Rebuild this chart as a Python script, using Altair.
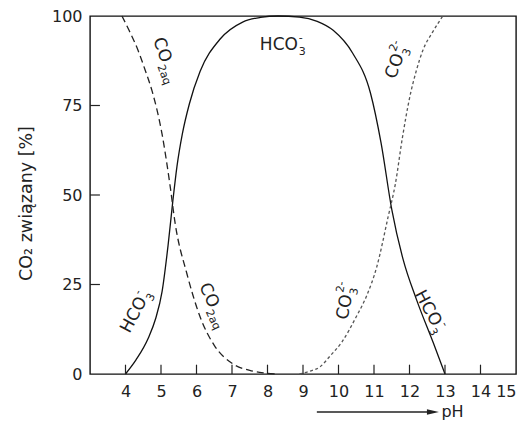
import altair as alt
import pandas as pd

# ---- data ----
co2_ph = [3.9, 4.1, 4.35, 4.55, 4.75, 5.03, 5.25, 5.4, 5.73, 5.9, 6.1, 6.5, 7.0, 7.5, 7.9, 8.25]
co2_pct = [100, 96, 90.5, 85, 79, 67, 53, 42, 28, 22, 16, 8, 3, 1, 0.3, 0]

hco3_ph = [4.0, 4.3, 4.64, 4.85, 5.03, 5.2, 5.33, 5.45, 5.6, 5.8, 6.1, 6.66, 7.3, 7.8, 8.3,
           8.9, 9.4, 9.85, 10.4, 10.9, 11.2, 11.5, 11.82, 12.2, 12.67, 13.0]
hco3_pct = [0, 4, 10, 15.5, 23, 36, 48, 58, 67, 75.5, 84.5, 93.5, 98.3, 99.6, 100,
            99.7, 98.5, 96, 89.6, 78.5, 64.5, 46, 32, 20.7, 8.7, 0]

co3_ph = [8.9, 9.2, 9.48, 9.76, 10.1, 10.5, 10.8, 11.08, 11.4, 11.6, 11.8, 12.0, 12.2, 12.38, 12.65, 12.94]
co3_pct = [0, 0.8, 2, 5, 9, 16, 22, 30, 44, 53, 66, 77, 85, 90.5, 95.5, 100]

x_tick_labels = list(range(4, 16))
y_tick_labels = [0, 25, 50, 75, 100]
x_inner_ticks = list(range(4, 15))
y_inner_ticks = [25, 50, 75]

# species labels: main text, subscript, superscript, pH, percent, angle
species_labels = [
    ("CO", "2aq", "", 5.03, 90.5, 70),
    ("HCO", "3", "-", 8.32, 91.9, 0),
    ("CO", "3", "2-", 11.59, 86.0, 290),
    ("HCO", "3", "-", 4.24, 16.5, 298),
    ("CO", "2aq", "", 6.35, 22.0, 65),
    ("CO", "3", "2-", 10.18, 18.7, 280),
    ("HCO", "3", "-", 12.52, 18.4, 62),
]

arrow_ph = [9.39, 12.58]
arrow_level = -10.6
arrow_head_ph = 12.66
ph_label_ph = 12.9
ph_label = "pH"
y_title = "CO₂ związany [%]"

FONT = "DejaVu Sans"
INK = "#222222"

xs = alt.Scale(domain=[3, 15], nice=False, zero=False)
ys = alt.Scale(domain=[0, 100], nice=False, zero=False)

x_axis = alt.Axis(values=x_tick_labels, ticks=False, domain=False, grid=False,
                  labelPadding=9, labelFlush=3, labelFont=FONT, labelFontSize=16,
                  labelColor=INK, title=None)
y_axis = alt.Axis(values=y_tick_labels, ticks=False, domain=False, grid=False,
                  labelPadding=8, labelFlush=False, labelFont=FONT, labelFontSize=16,
                  labelColor=INK, title=y_title, titleFont=FONT, titleFontSize=17.5,
                  titleFontWeight="normal", titleColor=INK, titleAngle=270,
                  titleX=-59, titleY=187, titleBaseline="alphabetic")


def X(field):
    return alt.X(field, scale=xs, axis=x_axis)


def Y(field):
    return alt.Y(field, scale=ys, axis=y_axis)


def curve(ph, pct, dash, color):
    df = pd.DataFrame({"ph": ph, "pct": pct})
    kw = dict(color=color, strokeWidth=1.3, interpolate="monotone")
    if dash:
        kw["strokeDash"] = dash
    return alt.Chart(df).mark_line(**kw).encode(x=X("ph:Q"), y=Y("pct:Q"))


hco3_line = curve(hco3_ph, hco3_pct, None, "#111111")
co2_line = curve(co2_ph, co2_pct, [7, 4], "#222222")
co3_line = curve(co3_ph, co3_pct, [3, 2.5], "#555555")

# inward ticks
xt = alt.Chart(pd.DataFrame({"ph": x_inner_ticks, "a": 0, "b": 2.6})).mark_rule(
    color=INK, strokeWidth=1.2
).encode(x=X("ph:Q"), y=Y("a:Q"), y2="b:Q")
yt = alt.Chart(pd.DataFrame({"pct": y_inner_ticks, "a": 3, "b": 3.28})).mark_rule(
    color=INK, strokeWidth=1.2
).encode(y=Y("pct:Q"), x=X("a:Q"), x2="b:Q")

layers = [hco3_line, co2_line, co3_line, xt, yt]

# species labels with sub/superscripts
MAIN_FS = 17
SUB_FS = 11
for main, sub, sup, ph, pct, ang in species_labels:
    df = pd.DataFrame({"ph": [ph], "pct": [pct]})
    w = {"HCO": 38.0, "CO": 25.2}[main]
    enc = dict(x=X("ph:Q"), y=Y("pct:Q"))
    layers.append(alt.Chart(df).mark_text(
        text=main, angle=ang, align="center", baseline="middle",
        font=FONT, fontSize=MAIN_FS, color=INK, clip=False).encode(**enc))
    if sub:
        layers.append(alt.Chart(df).mark_text(
            text=sub, angle=ang, align="left", baseline="middle", dx=w / 2 + 1, dy=7,
            font=FONT, fontSize=SUB_FS, color=INK, clip=False).encode(**enc))
    if sup:
        layers.append(alt.Chart(df).mark_text(
            text=sup, angle=ang, align="left", baseline="middle", dx=w / 2 + 1, dy=-7,
            font=FONT, fontSize=SUB_FS, color=INK, clip=False).encode(**enc))

# pH arrow below the axis
arrow = alt.Chart(pd.DataFrame({"a": [arrow_ph[0]], "b": [arrow_ph[1]], "y": [arrow_level]})).mark_rule(
    color=INK, strokeWidth=1.4, clip=False
).encode(x=X("a:Q"), x2="b:Q", y=Y("y:Q"))
head = alt.Chart(pd.DataFrame({"x": [arrow_head_ph], "y": [arrow_level]})).mark_point(
    shape="M-1,-0.45L1,0L-1,0.45Z", filled=True, size=144, color=INK, opacity=1, clip=False
).encode(x=X("x:Q"), y=Y("y:Q"))
ph_text = alt.Chart(pd.DataFrame({"x": [ph_label_ph], "y": [arrow_level]})).mark_text(
    text=ph_label, align="left", baseline="middle", font=FONT, fontSize=16, color=INK, clip=False
).encode(x=X("x:Q"), y=Y("y:Q"))
layers += [arrow, head, ph_text]

chart = alt.layer(*layers).properties(
    width=426, height=358,
    autosize=alt.AutoSizeParams(type="none"),
    padding={"left": 82, "top": 8, "right": 4, "bottom": 48},
    background="white",
).configure_view(stroke="#111111", strokeWidth=1.4)

chart.save("out.html", embed_options={"renderer": "svg", "actions": False})
